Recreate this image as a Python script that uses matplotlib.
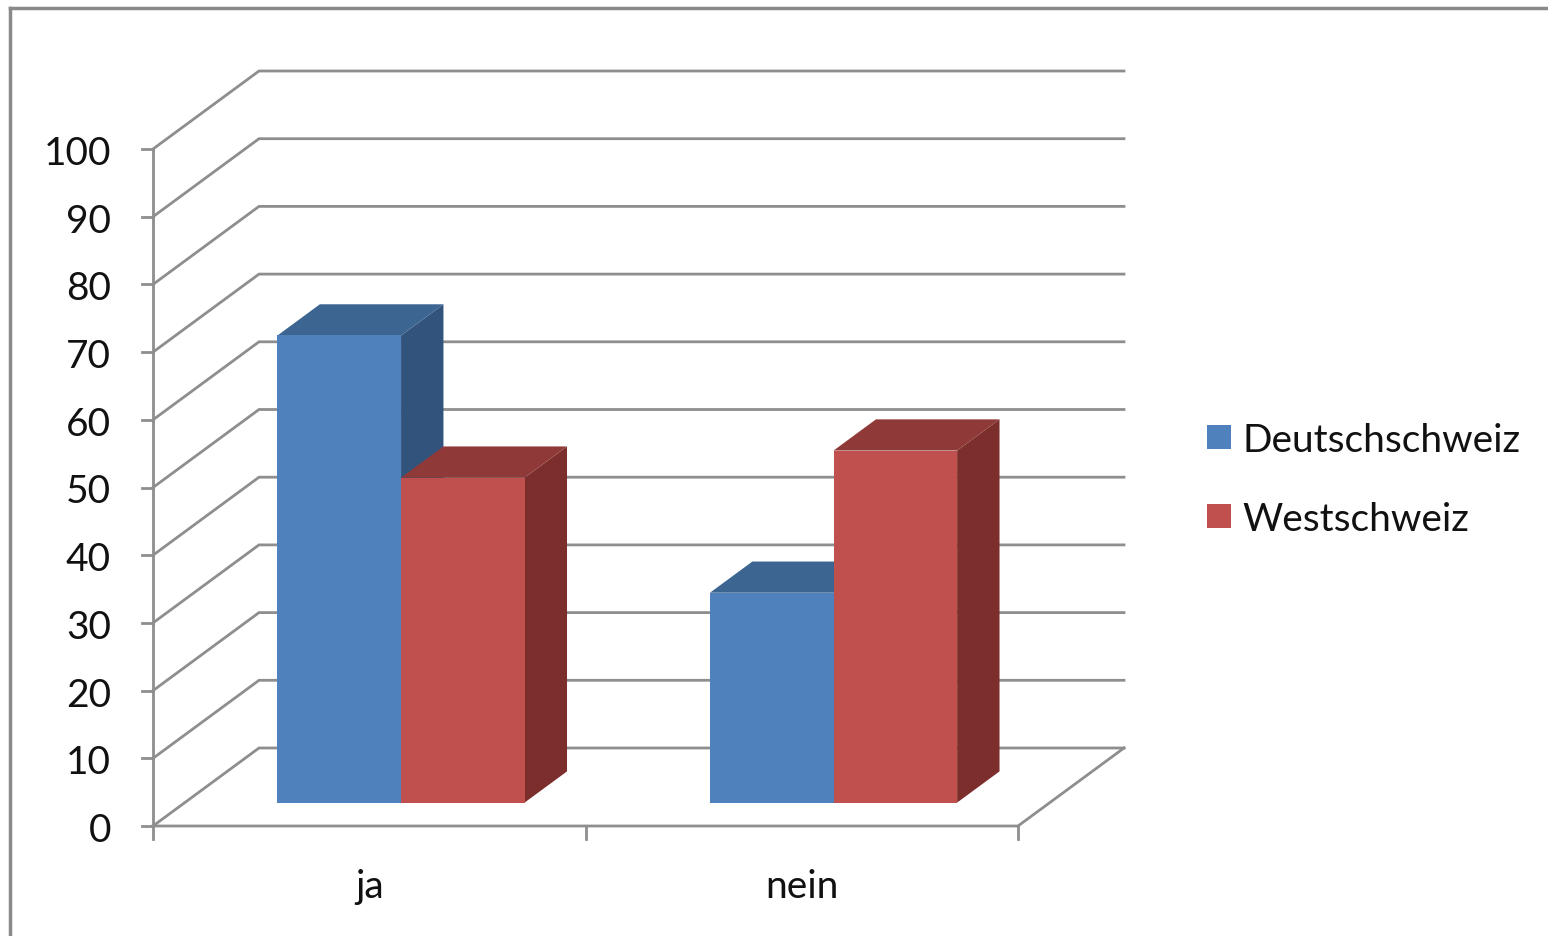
import matplotlib
matplotlib.use("Agg")
import matplotlib.pyplot as plt
from matplotlib.patches import Polygon, Rectangle
from matplotlib.lines import Line2D

# ---- data ----
categories = ["ja", "nein"]
series_names = ["Deutschschweiz", "Westschweiz"]
deutschschweiz = [69, 31]
westschweiz = [48, 52]
y_ticks = [0, 10, 20, 30, 40, 50, 60, 70, 80, 90, 100]

# ---- style ----
front_cols = ["#4F81BD", "#C0504D"]
top_cols = ["#3D6591", "#8F3A38"]
side_cols = ["#31537C", "#7B2E2C"]
grid_col = "#8E8E8E"
txt_col = "#111111"
FS = 28
plt.rcParams["font.family"] = ["Lato", "DejaVu Sans"]

W, H = 1548, 937
fig = plt.figure(figsize=(W / 100, H / 100), dpi=100)
ax = fig.add_axes([0, 0, 1, 1])
ax.set_axis_off()

# pixel mapping (layout): front x-axis origin at px 153, category width 432.5 px,
# value 0 at px 827 from top, 6.77 px per unit
X0_PX, CAT_PX, Y0_PX, UNIT_PX = 153, 432.5, 827, 6.77
ax.set_xlim(-X0_PX / CAT_PX, (W - X0_PX) / CAT_PX)
ax.set_ylim((Y0_PX - H) / UNIT_PX, Y0_PX / UNIT_PX)

# oblique depth offset
DDX = 106 / CAT_PX
DDY = 78 / UNIT_PX
ncat = len(categories)
ymax = y_ticks[-1]


def proj(x, y, z):
    return (x + z * DDX, y + z * DDY)


lw = 2.0
# back wall gridlines + side wall diagonals
for t in y_ticks:
    pts = [proj(0, t, 0), proj(0, t, 1), proj(ncat, t, 1)]
    ax.add_line(Line2D([p[0] for p in pts], [p[1] for p in pts], color=grid_col,
                       lw=lw, zorder=1, solid_joinstyle="miter"))
# floor front edge and right edge
pts = [proj(0, 0, 0), proj(ncat, 0, 0), proj(ncat, 0, 1)]
ax.add_line(Line2D([p[0] for p in pts], [p[1] for p in pts], color=grid_col, lw=lw, zorder=1))
# y axis
pts = [proj(0, 0, 0), proj(0, ymax, 0)]
ax.add_line(Line2D([p[0] for p in pts], [p[1] for p in pts], color=grid_col, lw=lw, zorder=1))
# y tick marks and labels
tick_dx = 11 / CAT_PX
lab_dy = 4 / UNIT_PX
for t in y_ticks:
    ax.add_line(Line2D([-tick_dx, 0], [t, t], color=grid_col, lw=lw, zorder=1))
    ax.text(-42 / CAT_PX, t - lab_dy, str(t), ha="right", va="center", fontsize=FS, color=txt_col)
# x tick marks
tick_dy = 13 / UNIT_PX
for i in range(ncat + 1):
    ax.add_line(Line2D([i, i], [0, -tick_dy], color=grid_col, lw=lw, zorder=1))
for i, c in enumerate(categories):
    ax.text(i + 0.5, -60 / UNIT_PX, c, ha="center", va="center", fontsize=FS, color=txt_col)

# bars
w = 1 / 3.5          # gap width 150%
off = 0.75 * w
z0, z1 = 0.3, 0.7
series = [deutschschweiz, westschweiz]
for i in range(ncat):
    for j, s in enumerate(series):
        v = s[i]
        xa = i + off + j * w
        xb = xa + w
        front = [proj(xa, 0, z0), proj(xb, 0, z0), proj(xb, v, z0), proj(xa, v, z0)]
        top = [proj(xa, v, z0), proj(xb, v, z0), proj(xb, v, z1), proj(xa, v, z1)]
        side = [proj(xb, 0, z0), proj(xb, 0, z1), proj(xb, v, z1), proj(xb, v, z0)]
        zb = 3 + i * 3 + j * 0.5
        ax.add_patch(Polygon(side, closed=True, facecolor=side_cols[j], edgecolor="none", zorder=zb))
        ax.add_patch(Polygon(top, closed=True, facecolor=top_cols[j], edgecolor="none", zorder=zb))
        ax.add_patch(Polygon(front, closed=True, facecolor=front_cols[j], edgecolor="none", zorder=zb + 0.1))

# legend
leg_y = [438, 517]
for k, name in enumerate(series_names):
    fig.patches.append(Rectangle((1207 / W, 1 - (leg_y[k] + 12) / H), 24 / W, 24 / H,
                                 transform=fig.transFigure, facecolor=front_cols[k],
                                 edgecolor="none"))
    fig.text(1242 / W, 1 - (leg_y[k] + 3) / H, name, ha="left", va="center", fontsize=FS, color=txt_col)

# chart frame (partially visible border)
fig.add_artist(Line2D([10 / W, 1], [1 - 9 / H, 1 - 9 / H], transform=fig.transFigure,
                      color="#8A8A8A", lw=2.5))
fig.add_artist(Line2D([10 / W, 10 / W], [0, 1 - 9 / H], transform=fig.transFigure,
                      color="#8A8A8A", lw=2.5))

fig.savefig("out.png", dpi=100)
